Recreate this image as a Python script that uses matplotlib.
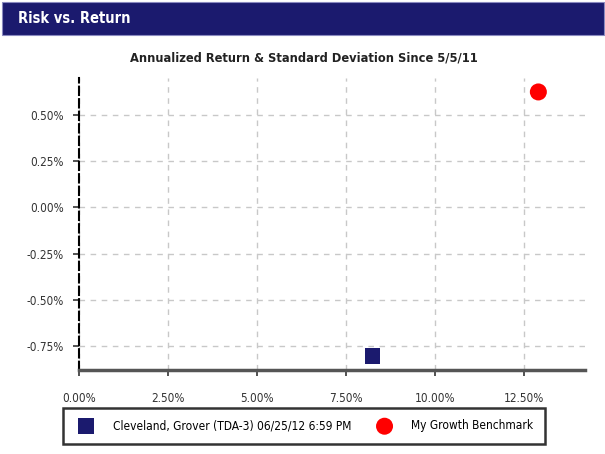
import matplotlib.pyplot as plt
from matplotlib.patches import Rectangle
from matplotlib.ticker import FuncFormatter

plt.rcParams['font.family'] = ['DejaVu Sans']
plt.rcParams['font.stretch'] = 'condensed'

# standard deviation (x) and annualized return (y), in percent
names = ["Cleveland, Grover (TDA-3) 06/25/12 6:59 PM", "My Growth Benchmark"]
std_dev = [8.23, 12.89]
returns = [-0.805, 0.625]
markers = ["s", "o"]
sizes = [125, 150]
colors = ["#1b1a6e", "#ff0000"]
x_ticks = [0, 2.5, 5, 7.5, 10, 12.5]
y_ticks = [-0.75, -0.5, -0.25, 0, 0.25, 0.5]

fig = plt.figure(figsize=(6.05, 4.54), dpi=100)

# header bar
fig.patches.append(Rectangle((0.003, 0.923), 0.995, 0.073, transform=fig.transFigure,
                             facecolor="#1b1a6e", edgecolor="#8a8ac0", lw=0.8))
fig.text(0.03, 0.96, "Risk vs. Return", color="white", fontsize=10.5, fontweight="bold",
         va="center", ha="left")
fig.text(0.503, 0.873, "Annualized Return & Standard Deviation Since 5/5/11",
         fontsize=9.2, fontweight="bold", ha="center", va="center", color="#222222")

ax = fig.add_axes([0.1306, 0.185, 0.8364, 0.643])
for name, x, y, m, s, c in zip(names, std_dev, returns, markers, sizes, colors):
    ax.scatter([x], [y], marker=m, s=s, color=c, label=name, zorder=3, edgecolors="none")

ax.set_xlim(0, 14.2)
ax.set_ylim(-0.88, 0.70)
ax.set_xticks(x_ticks)
ax.set_yticks(y_ticks)
ax.xaxis.set_major_formatter(FuncFormatter(lambda v, p: f"{v:.2f}%"))
ax.yaxis.set_major_formatter(FuncFormatter(lambda v, p: f"{v:.2f}%"))
ax.tick_params(labelsize=8.5, colors="#333333", length=4, width=1.2)
ax.tick_params(axis="x", pad=12)
ax.tick_params(axis="y", pad=7)
ax.grid(True, color="#c8c8c8", linestyle=(0, (4, 4)), linewidth=1)

for side in ["top", "right"]:
    ax.spines[side].set_visible(False)
ax.spines["left"].set_linestyle((0, (4, 2)))
ax.spines["left"].set_linewidth(1.5)
ax.spines["bottom"].set_linewidth(2.5)
ax.spines["bottom"].set_color("#555555")

leg = fig.legend(loc="center", bbox_to_anchor=(0.502, 0.062), ncol=2, fontsize=8.6,
                 frameon=True, fancybox=False, edgecolor="black", handletextpad=1.25,
                 columnspacing=1.8, borderpad=0.95, markerscale=1.0)
leg.get_frame().set_linewidth(1.8)

fig.savefig("out.png", dpi=100)
